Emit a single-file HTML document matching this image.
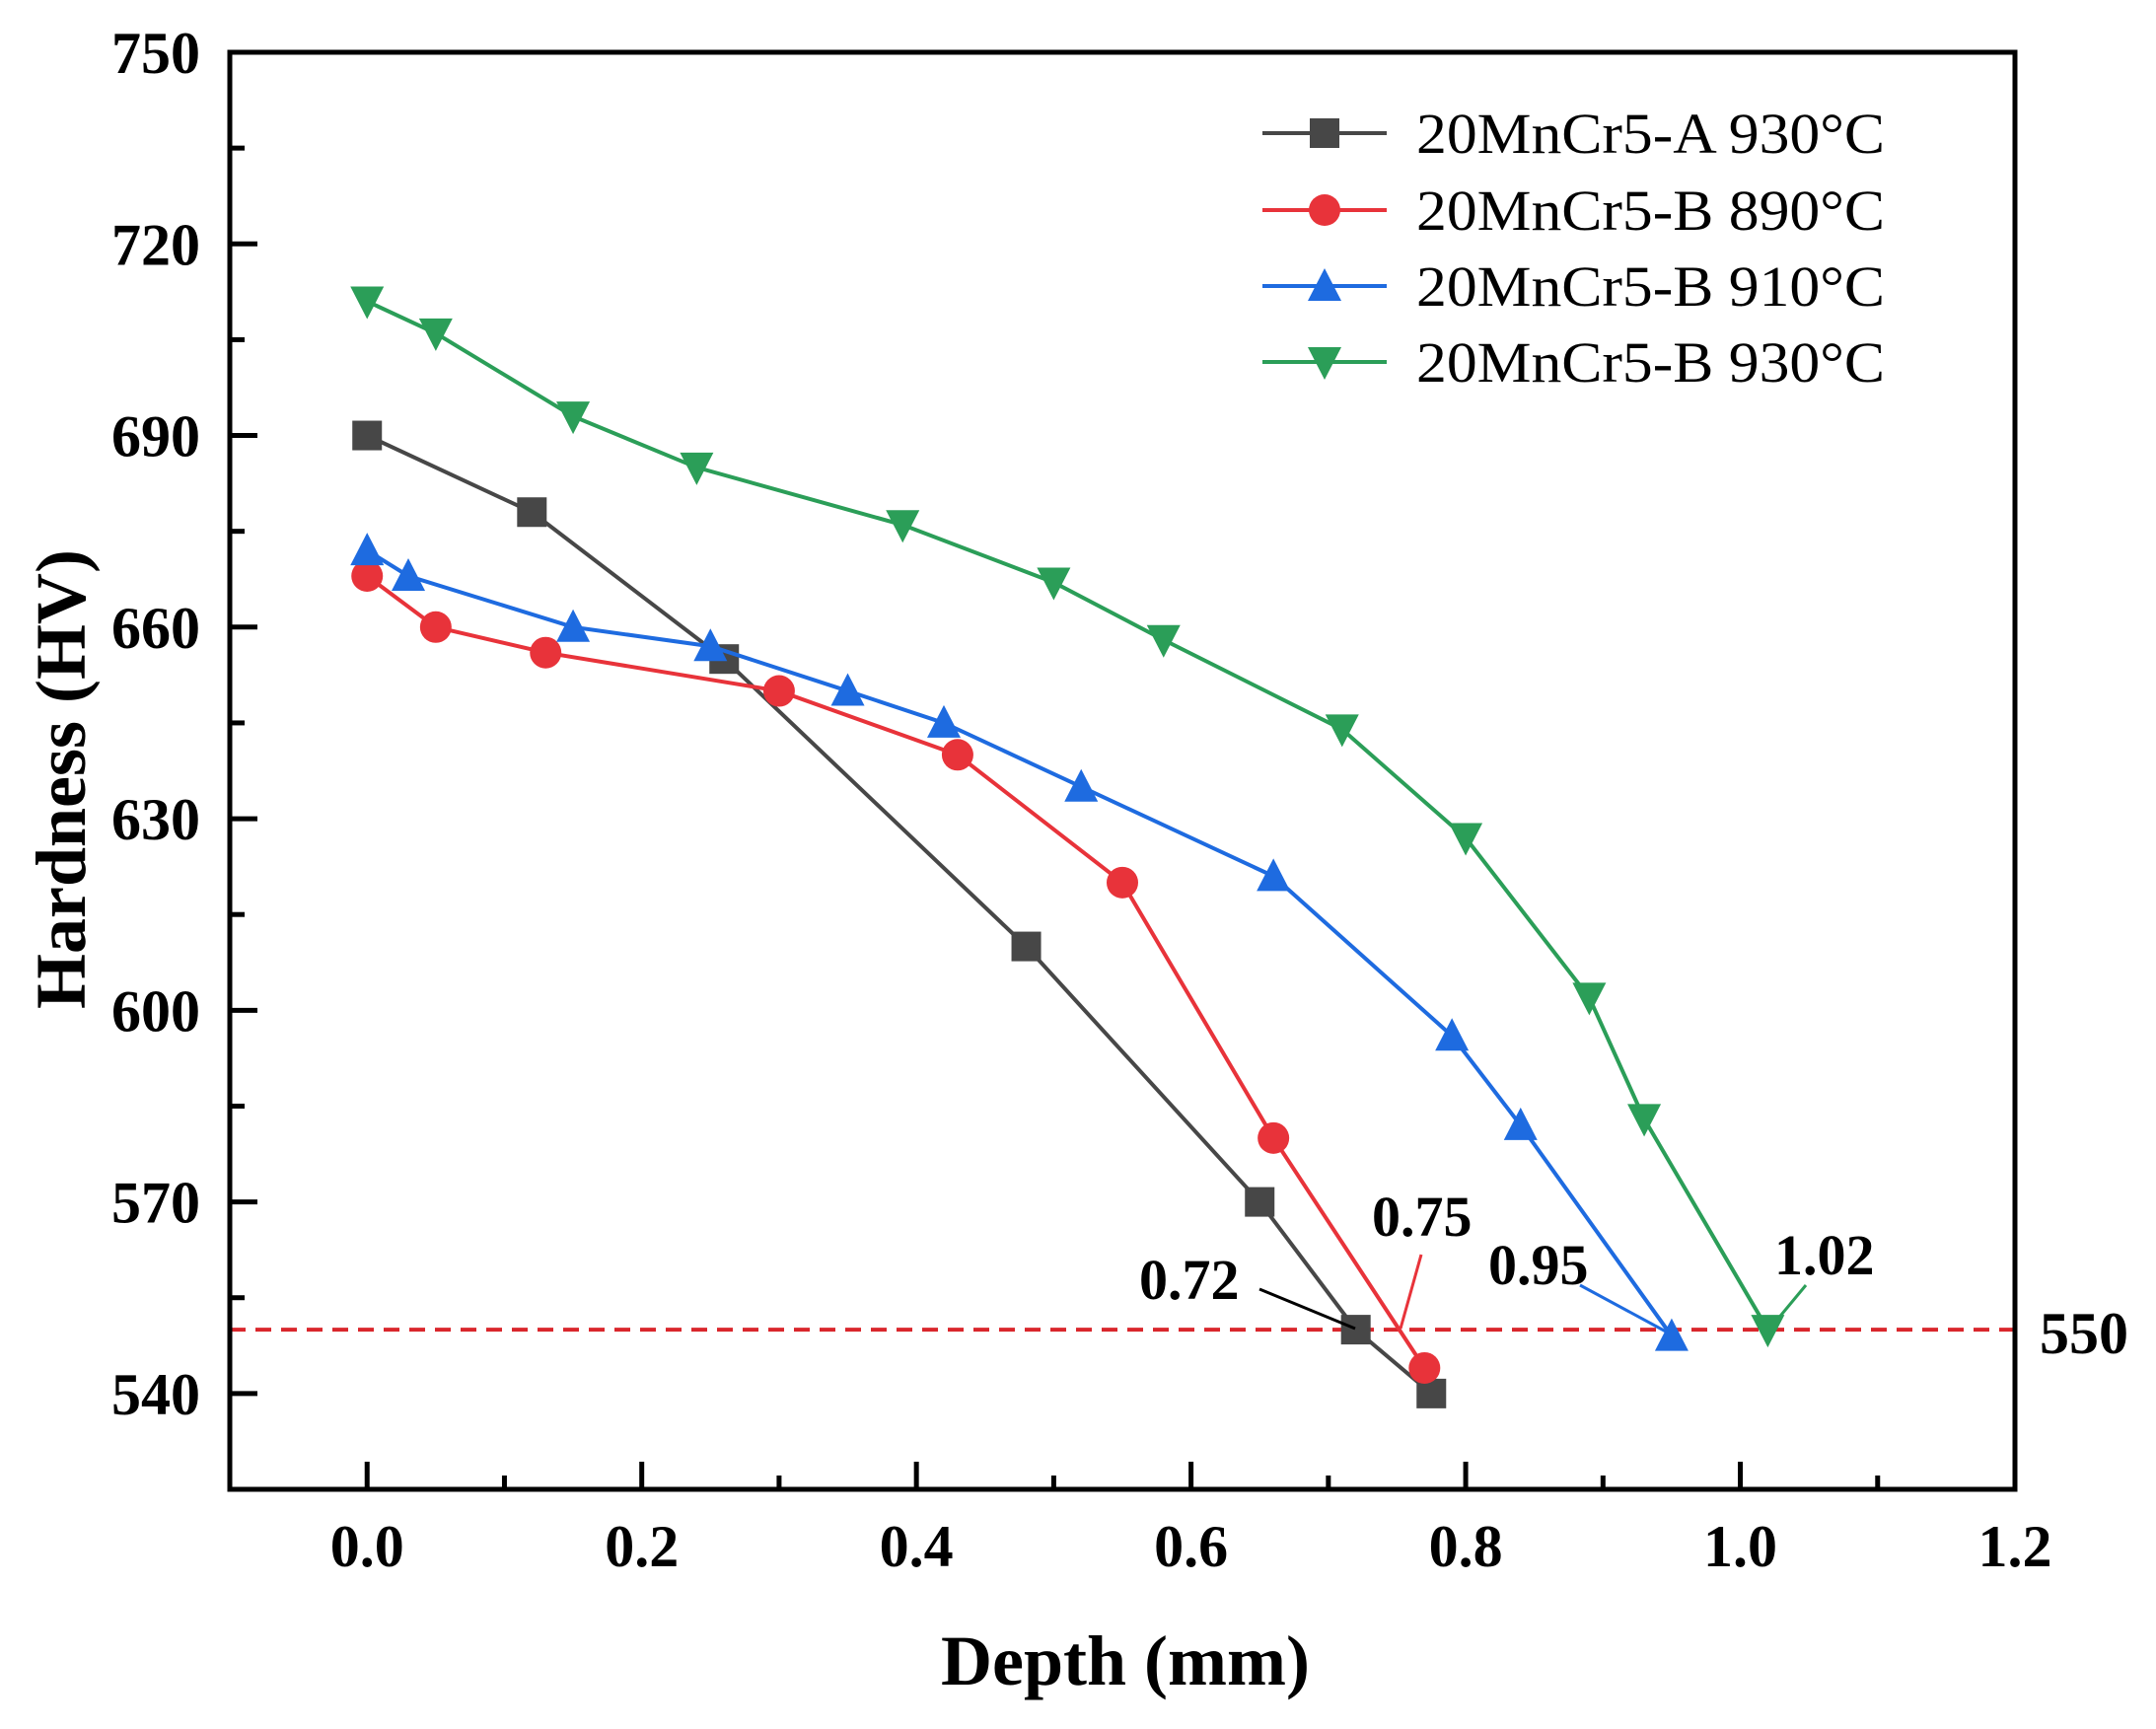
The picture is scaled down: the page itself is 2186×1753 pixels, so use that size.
<!DOCTYPE html>
<html><head><meta charset="utf-8"><style>
html,body{margin:0;padding:0;background:#fff;}
svg{display:block;}
text{font-family:"Liberation Serif",serif;}
</style></head><body>
<svg id="chart" width="2186" height="1753" viewBox="0 0 2186 1753" xmlns="http://www.w3.org/2000/svg">
</svg>
<script>
const seriesNames = ["20MnCr5-A 930°C","20MnCr5-B 890°C","20MnCr5-B 910°C","20MnCr5-B 930°C"];
const seriesColors = ["#474747","#e8333a","#1e6be0","#2b9e58"];
const seriesMarkers = ["square","circle","triangle","invtriangle"];
const depthA930 = [0,0.12,0.26,0.48,0.65,0.72,0.775];
const hardA930 = [690,678,655,610,570,550,540];
const depthB890 = [0,0.05,0.13,0.30,0.43,0.55,0.66,0.77];
const hardB890 = [668,660,656,650,640,620,580,544];
const depthB910 = [0,0.03,0.15,0.25,0.35,0.42,0.52,0.66,0.79,0.84,0.95];
const hardB910 = [672,668,660,657,650,645,635,621,596,582,549];
const depthB930 = [0,0.05,0.15,0.24,0.39,0.50,0.58,0.71,0.80,0.89,0.93,1.02];
const hardB930 = [711,706,693,685,676,667,658,644,627,602,583,550];
const xTicks = [0,0.2,0.4,0.6,0.8,1.0,1.2];
const xTickLabels = ["0.0","0.2","0.4","0.6","0.8","1.0","1.2"];
const yTicks = [540,570,600,630,660,690,720,750];
const yTickLabels = ["540","570","600","630","660","690","720","750"];
const thresholdValue = [550];
const annotValues = ["0.72","0.75","0.95","1.02"];

const svg = document.getElementById('chart');
const NS = "http://www.w3.org/2000/svg";
const L=233,R=2043,T=53,B=1510;
const xMin=-0.1,xMax=1.2,yMin=525,yMax=750;
function sx(v){return L+(v-xMin)/(xMax-xMin)*(R-L);}
function sy(v){return B-(v-yMin)/(yMax-yMin)*(B-T);}
function el(tag,attrs,parent){const e=document.createElementNS(NS,tag);for(const k in attrs)e.setAttribute(k,attrs[k]);(parent||svg).appendChild(e);return e;}

const thr = el('line',{x1:L,x2:R,y1:sy(thresholdValue[0]),y2:sy(thresholdValue[0]),stroke:'#d9262c','stroke-width':4,'stroke-dasharray':'16 10'});


const thrL = el('text',{x:2068,y:1372,'font-size':60,'font-weight':'bold'});
thrL.textContent=thresholdValue[0];



function marker(type,cx,cy,color,g){
  let m; const s=15;
  if(type==='square') m=el('rect',{x:cx-s,y:cy-s,width:2*s,height:2*s,fill:color},g);
  else if(type==='circle') m=el('circle',{cx:cx,cy:cy,r:s+1,fill:color},g);
  else if(type==='triangle') m=el('polygon',{points:`${cx},${cy-s-3} ${cx-s-2},${cy+s} ${cx+s+2},${cy+s}`,fill:color},g);
  else m=el('polygon',{points:`${cx},${cy+s+3} ${cx-s-2},${cy-s} ${cx+s+2},${cy-s}`,fill:color},g);
  return m;
}
const allX=[depthA930,depthB890,depthB910,depthB930];
const allY=[hardA930,hardB890,hardB910,hardB930];
for(let i=0;i<4;i++){
  const g=el('g',{});
  
  
  const pts=allX[i].map((d,j)=>sx(d)+','+sy(allY[i][j])).join(' ');
  const pl=el('polyline',{points:pts,fill:'none',stroke:seriesColors[i],'stroke-width':4},g);
  
  
  allX[i].forEach((d,j)=>{
    const m=marker(seriesMarkers[i],sx(d),sy(allY[i][j]),seriesColors[i],g);
    
    
  });
}

const annPos=[[1155,1317],[1391,1253],[1509,1302],[1799,1292]];
const annLines=[[1277,1307,1374,1347],[1441,1272,1420,1347],[1602,1303,1689,1350],[1831,1303,1792,1350]];
const annColors=["#000","#e8333a","#1e6be0","#2b9e58"];
for(let i=0;i<4;i++){
  const t=el('text',{x:annPos[i][0],y:annPos[i][1],'font-size':58,'font-weight':'bold'});
  t.textContent=annotValues[i];
  
  
  const a=annLines[i];
  const ln=el('line',{x1:a[0],y1:a[1],x2:a[2],y2:a[3],stroke:annColors[i],'stroke-width':3});
  
  
}

const frame=el('rect',{x:L,y:T,width:R-L,height:B-T,fill:'none',stroke:'#000','stroke-width':5});



xTicks.forEach((v,i)=>{
  const tk=el('line',{x1:sx(v),x2:sx(v),y1:B,y2:B-28,stroke:'#000','stroke-width':5});
  
  
  const t=el('text',{x:sx(v),y:1588,'font-size':60,'font-weight':'bold','text-anchor':'middle'});
  t.textContent=xTickLabels[i];
  
  
  if(i<xTicks.length-1){
    const mv=v+0.1;
    const mk=el('line',{x1:sx(mv),x2:sx(mv),y1:B,y2:B-14,stroke:'#000','stroke-width':5});
    
    
  }
});
yTicks.forEach((v,i)=>{
  const tk=el('line',{x1:L,x2:L+28,y1:sy(v),y2:sy(v),stroke:'#000','stroke-width':5});
  
  
  const t=el('text',{x:203,y:sy(v)+21,'font-size':60,'font-weight':'bold','text-anchor':'end'});
  t.textContent=yTickLabels[i];
  
  
  const mv=v-15;
  if(mv>yMin){
    const mk=el('line',{x1:L,x2:L+15,y1:sy(mv),y2:sy(mv),stroke:'#000','stroke-width':5});
    
    
  }
});

const xt=el('text',{x:1141,y:1708,'font-size':72,'font-weight':'bold','text-anchor':'middle'});
xt.textContent='Depth (mm)';


const yt=el('text',{x:0,y:0,'font-size':72,'font-weight':'bold','text-anchor':'middle',transform:'translate(86,790) rotate(-90)'});
yt.textContent='Hardness (HV)';



const lg=el('g',{});


const rowsY=[135,213,290,367];
for(let i=0;i<4;i++){
  const e=el('g',{},lg);
  
  
  el('line',{x1:1280,x2:1406,y1:rowsY[i],y2:rowsY[i],stroke:seriesColors[i],'stroke-width':4},e);
  marker(seriesMarkers[i],1343,rowsY[i],seriesColors[i],e);
  const t=el('text',{x:1436,y:rowsY[i]+20,'font-size':58,textLength:475,lengthAdjust:'spacingAndGlyphs'},e);
  t.textContent=seriesNames[i];
}
</script>
</body></html>
